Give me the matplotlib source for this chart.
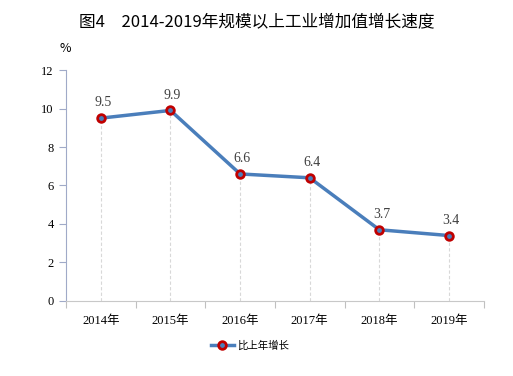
import matplotlib
matplotlib.use("Agg")
import matplotlib.pyplot as plt
from matplotlib.ticker import FixedLocator, NullFormatter

plt.rcParams['font.family'] = ['Liberation Serif', 'Noto Sans CJK SC']

years = ['2014年', '2015年', '2016年', '2017年', '2018年', '2019年']
growth = [9.5, 9.9, 6.6, 6.4, 3.7, 3.4]
labels = ['9.5', '9.9', '6.6', '6.4', '3.7', '3.4']

fig = plt.figure(figsize=(5.13, 3.76), dpi=100)
ax = fig.add_axes([0.1287, 0.1995, 0.8143, 0.6143])

x = list(range(len(years)))

# drop lines
ax.vlines(x, 0, growth, colors='#d8d8d8', linestyles=(0, (3, 2)), lw=0.8, zorder=1)

ax.plot(x, growth, color='#4a7ebb', lw=2.5, marker='o', markersize=5.5,
        markerfacecolor='#4a7ebb', markeredgecolor='#c00000', markeredgewidth=2.0,
        label='比上年增长', zorder=3)

for xi, yi, s in zip(x, growth, labels):
    ax.text(xi + 0.03, yi + 0.45, s, ha='center', va='bottom', fontsize=10, color='#404040')

ax.set_xlim(-0.5, 5.5)
ax.set_ylim(0, 12)
ax.set_yticks([0, 2, 4, 6, 8, 10, 12])
ax.set_xticks(x)
ax.set_xticklabels(years, fontsize=9)
ax.xaxis.set_minor_locator(FixedLocator([i - 0.5 for i in range(7)]))
ax.xaxis.set_minor_formatter(NullFormatter())
ax.tick_params(axis='x', which='major', length=0, pad=10)
ax.tick_params(axis='x', which='minor', length=5, color='#c0c0c0', width=0.8)
ax.tick_params(axis='y', length=5, color='#a0aac8', width=0.8, labelsize=9, pad=4)

for s in ['top', 'right']:
    ax.spines[s].set_visible(False)
ax.spines['left'].set_color('#a0aac8')
ax.spines['bottom'].set_color('#c8c8c8')

fig.text(0.5, 0.94, '图4　2014-2019年规模以上工业增加值增长速度', ha='center', va='center',
         fontsize=12, family=['Noto Sans CJK SC', 'DejaVu Sans'])
fig.text(0.128, 0.872, '%', ha='center', va='center', fontsize=9, family='Noto Sans CJK SC')

leg = fig.legend(loc='center', bbox_to_anchor=(0.487, 0.08), frameon=False,
                 prop={'family': 'Noto Sans CJK SC', 'size': 7.5}, handlelength=2.2,
                 handletextpad=0.3)

fig.savefig('out.png', dpi=100)
